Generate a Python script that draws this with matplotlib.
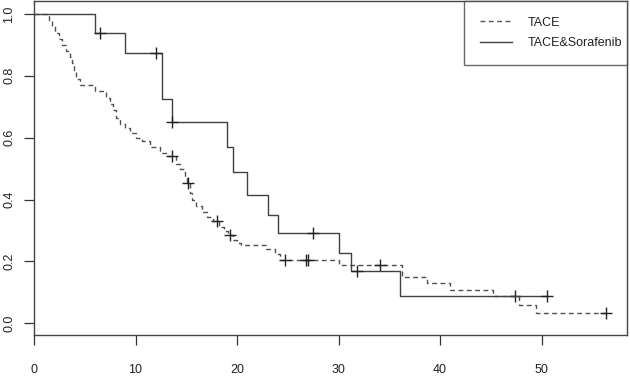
import numpy as np
import matplotlib
matplotlib.use("Agg")
import matplotlib.pyplot as plt

# ---- data ----
tace_times = [0, 1.5, 1.75, 2.1, 2.5, 2.8, 3.2, 3.5, 3.7, 3.9, 4.1, 4.5, 6.0, 7.1, 7.5,
              7.8, 8.1, 8.5, 9.0, 9.5, 10.0, 10.6, 11.4, 12.4, 13.0, 14.0, 14.4, 14.9,
              15.1, 15.4, 15.6, 16.0, 16.5, 17.0, 17.6, 18.2, 18.7, 19.1, 19.6, 20.0,
              20.4, 22.8, 23.7, 24.2, 30.0, 36.2, 38.7, 41.0, 45.25, 47.8, 49.4]
tace_surv = [1.0, 0.98, 0.96, 0.94, 0.92, 0.90, 0.88, 0.86, 0.84, 0.82, 0.79, 0.77, 0.75,
             0.73, 0.71, 0.69, 0.665, 0.645, 0.63, 0.615, 0.60, 0.59, 0.57, 0.55, 0.54,
             0.515, 0.50, 0.475, 0.455, 0.42, 0.40, 0.378, 0.36, 0.345, 0.33, 0.31, 0.30,
             0.285, 0.27, 0.26, 0.253, 0.24, 0.225, 0.205, 0.188, 0.15, 0.13, 0.108,
             0.087, 0.06, 0.032]
tace_end = 56.3
tace_censor = [13.6, 15.2, 18.0, 19.3, 24.7, 26.8, 27.0, 34.1, 47.4, 56.3]

sor_times = [0, 6.0, 9.0, 12.6, 13.6, 19.0, 19.6, 21.0, 23.05, 24.0, 30.0, 31.2, 36.0]
sor_surv = [1.0, 0.94, 0.873, 0.724, 0.650, 0.570, 0.489, 0.414, 0.351, 0.291, 0.228,
            0.170, 0.089]
sor_end = 50.5
sor_censor = [6.5, 12.0, 13.6, 27.5, 31.8, 50.5]

labels = ["TACE", "TACE&Sorafenib"]
x_ticks = [0, 10, 20, 30, 40, 50]
y_ticks = [0.0, 0.2, 0.4, 0.6, 0.8, 1.0]

plt.rcParams['font.family'] = ['Liberation Sans', 'DejaVu Sans']

fig = plt.figure(figsize=(6.30, 3.81), dpi=100)
ax = fig.add_axes([34/630, 1 - 335/381, (627-34)/630, (335-0.5)/381])

def step_value(times, surv, t):
    idx = np.searchsorted(np.asarray(times), np.asarray(t), side='right') - 1
    return np.asarray(surv)[idx]

col_d = '#505050'
col_s = '#404040'

# TACE dashed
xs = list(tace_times) + [tace_end]
ys = list(tace_surv) + [tace_surv[-1]]
ax.step(xs, ys, where='post', color=col_d, lw=1.0, dashes=(3.5, 2.5), label=labels[0])
ax.plot(tace_censor, step_value(tace_times, tace_surv, tace_censor), ls='none',
        marker='+', ms=8, mew=1.0, color='#222222')

# TACE & Sorafenib solid
xs = list(sor_times) + [sor_end]
ys = list(sor_surv) + [sor_surv[-1]]
ax.step(xs, ys, where='post', color=col_s, lw=1.0, label=labels[1])
ax.plot(sor_censor, step_value(sor_times, sor_surv, sor_censor), ls='none',
        marker='+', ms=8, mew=1.0, color='#222222')

ax.set_xlim(0, 593/10.154)
ax.set_ylim(-11.7/309.3, 1 + 13.5/309.3)
ax.set_xticks(x_ticks)
ax.set_xticklabels([str(v) for v in x_ticks])
ax.set_yticks(y_ticks)
ax.set_yticklabels([f"{v:.1f}" for v in y_ticks], rotation=90, va='center')

ax.tick_params(axis='both', direction='out', length=7.5, width=0.9, colors='#333333',
               labelsize=9, labelcolor='#222222')
ax.tick_params(axis='x', pad=13.5)
ax.tick_params(axis='y', pad=6)
for sp in ax.spines.values():
    sp.set_color('#444444')
    sp.set_linewidth(1.0)

# legend box: x from 464 px to 627 px, top at axes top
x0 = (464 - 34) / 593
w = (627 - 464) / 593
leg = ax.legend(loc='upper left', bbox_to_anchor=(x0, 0, w, 1.0), mode='expand',
                borderaxespad=0, fontsize=9, frameon=True, fancybox=False,
                handlelength=2.56, handletextpad=1.2, borderpad=1.3, labelspacing=0.65)
leg.get_frame().set_edgecolor('#444444')
leg.get_frame().set_linewidth(1.0)
for t in leg.get_texts():
    t.set_color('#222222')

fig.savefig("out.png", dpi=100)
